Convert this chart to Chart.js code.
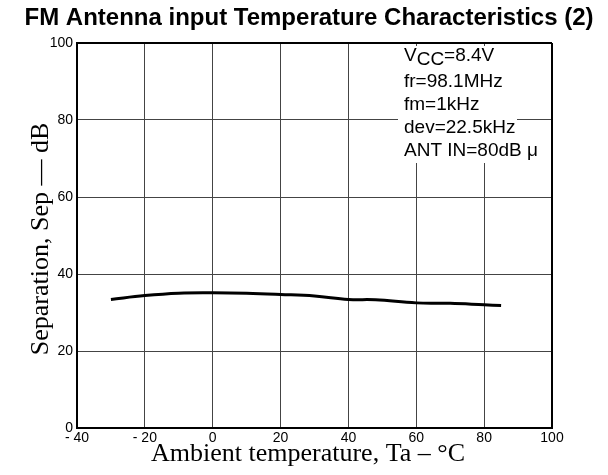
<!DOCTYPE html>
<html>
<head>
<meta charset="utf-8">
<script src="https://cdn.jsdelivr.net/npm/chart.js@4"></script>
<style>
  html, body { margin: 0; padding: 0; background: #fff; }
  #wrap { width: 608px; height: 475px; position: relative; }
</style>
</head>
<body>
<div id="wrap"><canvas id="grafico"></canvas></div>
<script>
// Dados
const temperaturas = [-30, -20, -10, 0, 10, 20, 30, 40, 48, 60, 70, 80, 85];
const separacao = [33.4, 34.4, 35.0, 35.1, 35.0, 34.7, 34.3, 33.4, 33.3, 32.5, 32.4, 32.0, 31.8];
const condicoes = ['VCC=8.4V', 'fr=98.1MHz', 'fm=1kHz', 'dev=22.5kHz', 'ANT IN=80dB \u03bc'];

const titulo = 'FM Antenna input Temperature Characteristics (2)';
const tituloX = 'Ambient temperature, Ta \u2013 \u00b0C';
const tituloY = 'Separation, Sep \u2014 dB';

const SANS = '"Liberation Sans", Arial, sans-serif';
const SERIF = '"Liberation Serif", "Times New Roman", serif';

// Plugin para textos e caixa de condições
const textosPlugin = {
    id: 'textos',
    afterDraw: function(chart) {
        const ctx = chart.ctx;
        ctx.save();

        // Título
        ctx.fillStyle = '#000';
        ctx.font = 'bold 24px ' + SANS;
        ctx.textAlign = 'center';
        ctx.textBaseline = 'alphabetic';
        ctx.fillText(titulo, 309, 25);

        // Título eixo X
        ctx.font = '26px ' + SERIF;
        ctx.fillText(tituloX, 308, 461);

        // Título eixo Y
        ctx.translate(48, 239);
        ctx.rotate(-Math.PI / 2);
        ctx.fillText(tituloY, 0, 0);
        ctx.restore();

        // Caixa de condições
        ctx.save();
        ctx.fillStyle = '#fff';
        ctx.fillRect(398, 46, 119, 117);
        ctx.fillStyle = '#000';
        ctx.font = '19px ' + SANS;
        ctx.textAlign = 'left';
        ctx.textBaseline = 'alphabetic';
        const ys = [61, 87, 110, 133, 156];
        condicoes.forEach(function(txt, i) {
            if (i === 0) {
                ctx.fillText('V', 404, ys[i]);
                let w = ctx.measureText('V').width;
                ctx.fillText('CC', 404 + w, ys[i] + 4);
                let w2 = ctx.measureText('CC').width;
                ctx.fillText(txt.slice(3), 404 + w + w2, ys[i]);
            } else {
                ctx.fillText(txt, 404, ys[i]);
            }
        });
        ctx.restore();
    }
};

const ctx = document.getElementById('grafico').getContext('2d');

new Chart(ctx, {
    type: 'line',
    data: {
        datasets: [
            {
                data: temperaturas.map(function(t, i) { return { x: t, y: separacao[i] }; }),
                borderColor: '#000',
                borderWidth: 3,
                pointRadius: 0,
                tension: 0.4,
                fill: false
            }
        ]
    },
    options: {
        responsive: true,
        maintainAspectRatio: false,
        animation: false,
        layout: {
            padding: { top: 43, right: 56, left: 0, bottom: 0 }
        },
        plugins: {
            legend: { display: false },
            tooltip: { enabled: false }
        },
        scales: {
            x: {
                type: 'linear',
                min: -40,
                max: 100,
                ticks: {
                    stepSize: 20,
                    padding: 2,
                    color: '#000',
                    font: { size: 14, family: SANS },
                    callback: function(value) {
                        return value < 0 ? '- ' + Math.abs(value) : String(value);
                    }
                },
                grid: { color: '#444', lineWidth: 1, drawTicks: false },
                border: { color: '#000', width: 2 },
                afterFit: function(scale) { scale.height = 47; }
            },
            y: {
                min: 0,
                max: 100,
                ticks: {
                    stepSize: 20,
                    padding: 4,
                    color: '#000',
                    font: { size: 14, family: SANS }
                },
                grid: { color: '#444', lineWidth: 1, drawTicks: false },
                border: { color: '#000', width: 2 },
                afterFit: function(scale) { scale.width = 77; }
            }
        }
    },
    plugins: [
        {
            id: 'bordaDireita',
            beforeDatasetsDraw: function(chart) {
                const c = chart.ctx;
                const a = chart.chartArea;
                c.save();
                c.strokeStyle = '#000';
                c.lineWidth = 2;
                c.beginPath();
                c.moveTo(a.right, a.top);
                c.lineTo(a.right, a.bottom);
                c.moveTo(a.left, a.top);
                c.lineTo(a.right, a.top);
                c.stroke();
                c.restore();
            }
        },
        textosPlugin
    ]
});
</script>
</body>
</html>
